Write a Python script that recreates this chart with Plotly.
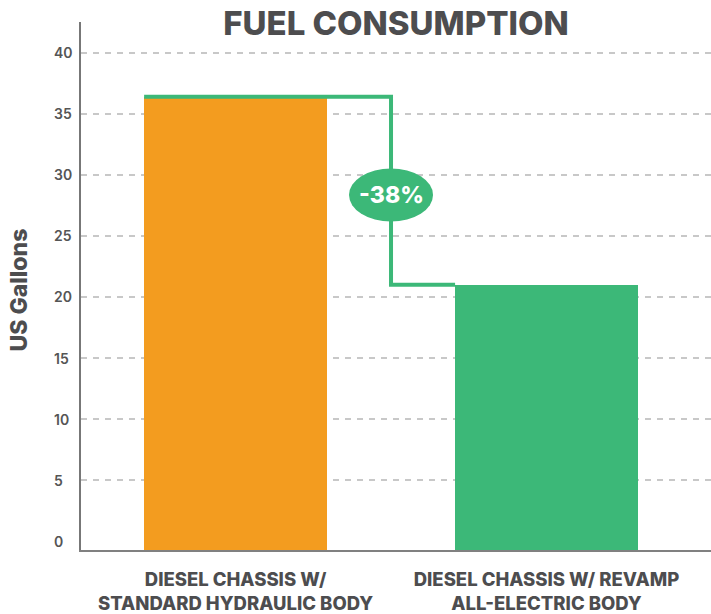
import plotly.graph_objects as go

categories = ["DIESEL CHASSIS W/<br>STANDARD HYDRAULIC BODY",
              "DIESEL CHASSIS W/ REVAMP<br>ALL-ELECTRIC BODY"]
gallons = [36.4, 21.0]
bar_colors = ["#F39C1F", "#3CB878"]
change_label = "-38%"
y_ticks = [0, 5, 10, 15, 20, 25, 30, 35, 40]

TEXT = "#4D4D4F"
FONT = "Inter"
W, H = 711, 614
ML, MT, MR, MB = 81, 22, 0, 614 - 553
PW, PH = W - ML - MR, H - MT - MB
Y_MIN, Y_MAX = -0.725, 42.52
BAR_W = 0.588
X_RANGE = [-0.497, 1.529]

fig = go.Figure()
fig.add_trace(go.Bar(
    x=[0, 1], y=[v - Y_MIN for v in gallons], base=Y_MIN,
    width=BAR_W, marker=dict(color=bar_colors, line=dict(width=0)),
    hoverinfo="skip", showlegend=False))

x_left = 0 - BAR_W / 2
x_mid = 0.5
x_right = 1 - BAR_W / 2
fig.add_trace(go.Scatter(
    x=[x_left, x_mid, x_mid, x_right],
    y=[gallons[0], gallons[0], gallons[1], gallons[1]],
    mode="lines", line=dict(color="#3CB878", width=4),
    hoverinfo="skip", showlegend=False))

badge_y = 28.35
fig.add_shape(type="circle", xref="x", yref="y",
              xsizemode="pixel", ysizemode="pixel",
              xanchor=x_mid, yanchor=badge_y,
              x0=-42, x1=42, y0=-26.5, y1=26.5,
              fillcolor="#3CB878", line=dict(width=0), layer="above")
fig.add_annotation(x=x_mid, y=badge_y, xref="x", yref="y", text=change_label,
                   showarrow=False,
                   font=dict(family=FONT, size=23, color="white", weight=800))

for t in y_ticks:
    fig.add_annotation(x=(52 - 81) / PW, y=t, xref="paper", yref="y", text=str(t),
                       showarrow=False, xanchor="left", yanchor="middle",
                       font=dict(family=FONT, size=14, color="#555555", weight=600))

fig.add_annotation(x=(19 - 81) / PW, y=(553 - 292) / PH, xref="paper", yref="paper",
                   text="US Gallons", showarrow=False, textangle=-90,
                   xanchor="center", yanchor="middle",
                   font=dict(family=FONT, size=23, color=TEXT, weight=800))

fig.update_layout(
    width=W, height=H,
    margin=dict(l=ML, r=MR, t=MT, b=MB, pad=0),
    paper_bgcolor="white", plot_bgcolor="white",
    title=dict(text="FUEL CONSUMPTION", x=0.5, xref="paper",
               y=1 - 23.5 / H, yref="container", yanchor="middle",
               font=dict(family=FONT, size=33, color=TEXT, weight=800)),
    xaxis=dict(range=X_RANGE, tickvals=[0, 1], ticktext=categories,
               showgrid=False, zeroline=False, showline=True,
               linecolor="#808080", linewidth=2, ticks="",
               ticklabelstandoff=12,
               tickfont=dict(family=FONT, size=18.5, color=TEXT, weight=800)),
    yaxis=dict(range=[Y_MIN, Y_MAX], tickvals=y_ticks[1:], showticklabels=False,
               showgrid=True, gridcolor="#C8C8C8", gridwidth=2, griddash="6px,6px",
               zeroline=False, showline=True, linecolor="#777777", linewidth=2,
               ticks=""),
    bargap=0,
)

fig.write_html(
    "out.html",
    config={"displayModeBar": False},
    post_script=("document.body.style.margin='0';"
                 "document.body.style.overflow='hidden';"
                 "document.documentElement.style.overflow='hidden';"),
)
